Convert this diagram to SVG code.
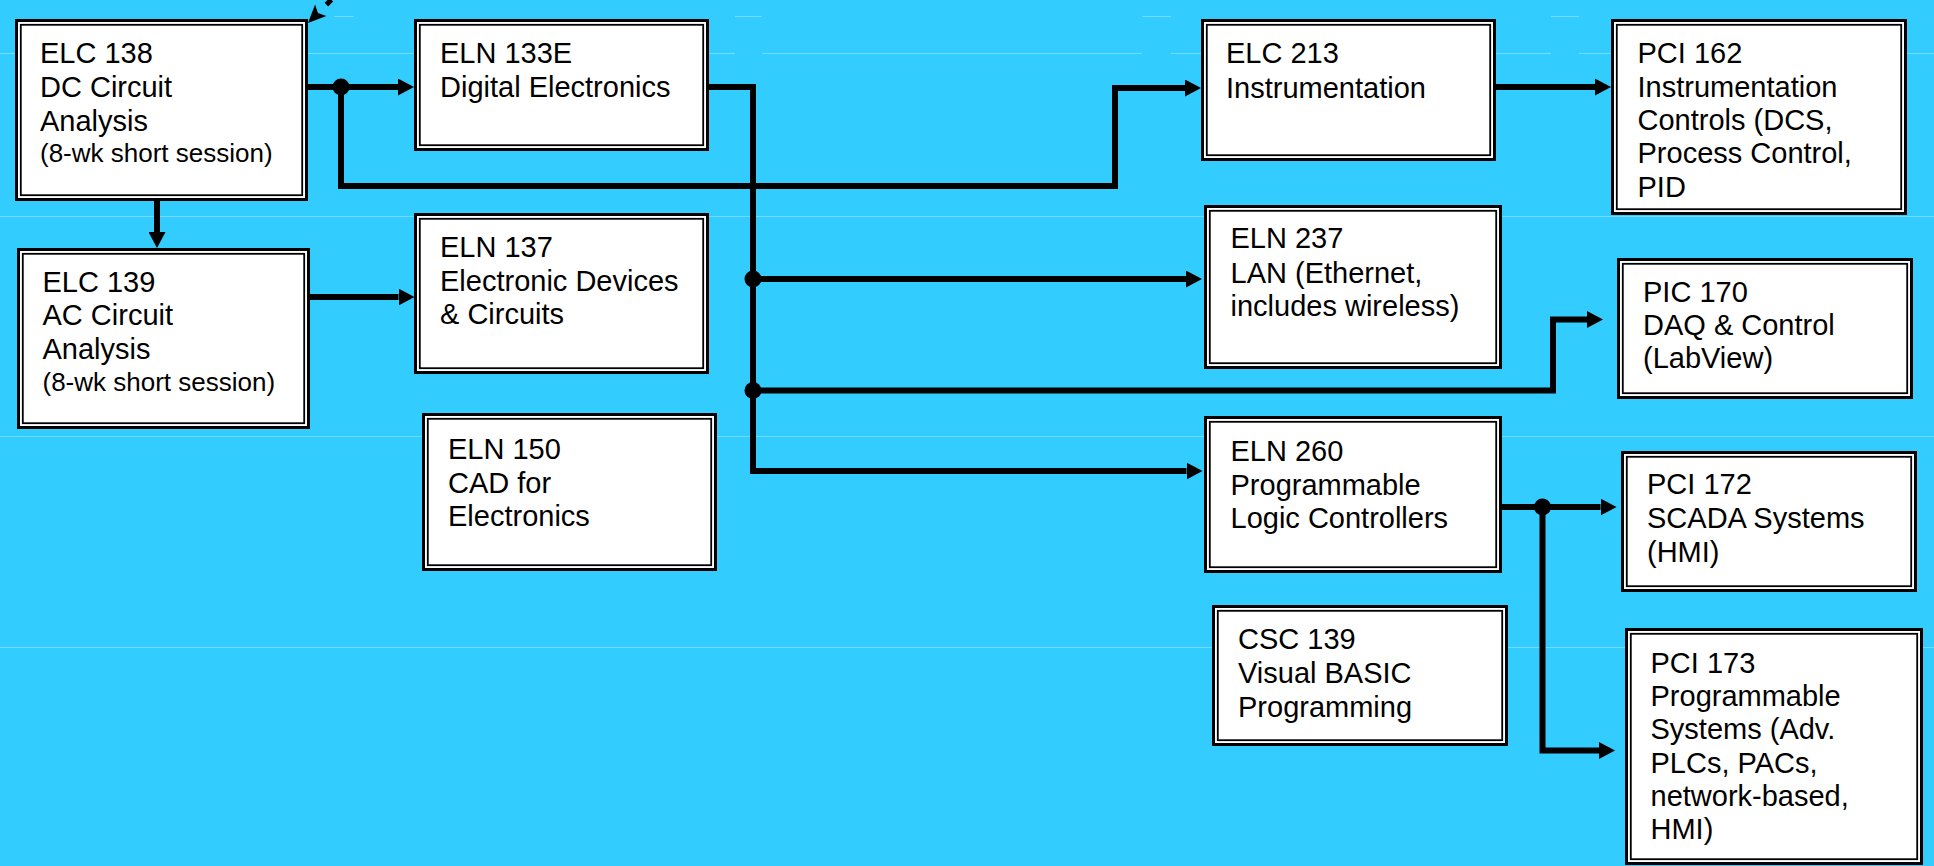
<svg xmlns="http://www.w3.org/2000/svg" width="1934" height="866" viewBox="0 0 1934 866">
<defs>
<style>
.bg{fill:#33CCFF}
.faint{stroke:#74DBFF;stroke-width:1;fill:none}
.o{fill:#FFFFFF;stroke:#000000;stroke-width:3}
.i{fill:none;stroke:#000000;stroke-width:1.8}
.t{font-family:"Liberation Sans",Arial,Helvetica,sans-serif;font-size:29px;fill:#000000}
.s{font-size:26px}
.c{fill:none;stroke:#000000;stroke-width:6;stroke-linejoin:miter}
.dot{fill:#000000}
</style>
<marker id="arr" viewBox="0 0 16 17" refX="0" refY="8.5" markerWidth="16" markerHeight="17" markerUnits="userSpaceOnUse" orient="auto">
<path d="M0,0 L16,8.5 L0,17 Z" fill="#000000"/>
</marker>
</defs>
<rect class="bg" x="0" y="0" width="1934" height="866"/>
<g id="background-lines">
<path class="faint" d="M0,53.5 H735 M762,53.5 H1142 M1171,53.5 H1551 M1579,53.5 H1934"/>
<path class="faint" d="M334,16.5 H354 M735,16.5 H762 M1142,16.5 H1171 M1551,16.5 H1579"/>
<path class="faint" d="M0,216.5 H1934 M0,436.5 H1934 M0,647.5 H1934"/>
</g>

<g id="n-elc138">
<rect class="o" x="16.5" y="20.5" width="290" height="179"/>
<rect class="i" x="20.8" y="24.8" width="281.4" height="170.4"/>
<text class="t"><tspan x="40" y="63.3">ELC 138</tspan><tspan x="40" y="96.7">DC Circuit</tspan><tspan x="40" y="130.7">Analysis</tspan><tspan class="s" x="40" y="162">(8-wk short session)</tspan></text>
</g>
<g id="n-eln133e">
<rect class="o" x="415.5" y="20.5" width="292" height="129"/>
<rect class="i" x="419.8" y="24.8" width="283.4" height="120.4"/>
<text class="t"><tspan x="440" y="63.3">ELN 133E</tspan><tspan x="440" y="96.7">Digital Electronics</tspan></text>
</g>
<g id="n-elc213">
<rect class="o" x="1202.5" y="20.5" width="292" height="139"/>
<rect class="i" x="1206.8" y="24.8" width="283.4" height="130.4"/>
<text class="t"><tspan x="1226" y="63.3">ELC 213</tspan><tspan x="1226" y="97.7">Instrumentation</tspan></text>
</g>
<g id="n-pci162">
<rect class="o" x="1612.5" y="20.5" width="293" height="193"/>
<rect class="i" x="1616.8" y="24.8" width="284.4" height="184.4"/>
<text class="t"><tspan x="1637.5" y="63.3">PCI 162</tspan><tspan x="1637.5" y="96.7">Instrumentation</tspan><tspan x="1637.5" y="130">Controls (DCS,</tspan><tspan x="1637.5" y="163.3">Process Control,</tspan><tspan x="1637.5" y="197">PID</tspan></text>
</g>
<g id="n-elc139">
<rect class="o" x="18.5" y="249.5" width="290" height="178"/>
<rect class="i" x="22.8" y="253.8" width="281.4" height="169.4"/>
<text class="t"><tspan x="42.5" y="291.7">ELC 139</tspan><tspan x="42.5" y="325">AC Circuit</tspan><tspan x="42.5" y="359.3">Analysis</tspan><tspan class="s" x="42.5" y="390.7">(8-wk short session)</tspan></text>
</g>
<g id="n-eln137">
<rect class="o" x="415.5" y="214.5" width="292" height="158"/>
<rect class="i" x="419.8" y="218.8" width="283.4" height="149.4"/>
<text class="t"><tspan x="440" y="256.7">ELN 137</tspan><tspan x="440" y="291">Electronic Devices</tspan><tspan x="440" y="324">&amp; Circuits</tspan></text>
</g>
<g id="n-eln237">
<rect class="o" x="1205.5" y="206.5" width="295" height="161"/>
<rect class="i" x="1209.8" y="210.8" width="286.4" height="152.4"/>
<text class="t"><tspan x="1230.5" y="248.3">ELN 237</tspan><tspan x="1230.5" y="282.7">LAN (Ethernet,</tspan><tspan x="1230.5" y="316">includes wireless)</tspan></text>
</g>
<g id="n-pic170">
<rect class="o" x="1618.5" y="259.5" width="293" height="138"/>
<rect class="i" x="1622.8" y="263.8" width="284.4" height="129.4"/>
<text class="t"><tspan x="1643" y="301.7">PIC 170</tspan><tspan x="1643" y="335">DAQ &amp; Control</tspan><tspan x="1643" y="368.3">(LabView)</tspan></text>
</g>
<g id="n-eln150">
<rect class="o" x="423.5" y="414.5" width="292" height="155"/>
<rect class="i" x="427.8" y="418.8" width="283.4" height="146.4"/>
<text class="t"><tspan x="448" y="459.3">ELN 150</tspan><tspan x="448" y="492.5">CAD for</tspan><tspan x="448" y="525.5">Electronics</tspan></text>
</g>
<g id="n-eln260">
<rect class="o" x="1205.5" y="417.5" width="295" height="154"/>
<rect class="i" x="1209.8" y="421.8" width="286.4" height="145.4"/>
<text class="t"><tspan x="1230.5" y="461">ELN 260</tspan><tspan x="1230.5" y="495">Programmable</tspan><tspan x="1230.5" y="528.3">Logic Controllers</tspan></text>
</g>
<g id="n-pci172">
<rect class="o" x="1622.5" y="452.5" width="293" height="138"/>
<rect class="i" x="1626.8" y="456.8" width="284.4" height="129.4"/>
<text class="t"><tspan x="1647" y="494.3">PCI 172</tspan><tspan x="1647" y="528.3">SCADA Systems</tspan><tspan x="1647" y="561.7">(HMI)</tspan></text>
</g>
<g id="n-csc139">
<rect class="o" x="1213.5" y="606.5" width="293" height="138"/>
<rect class="i" x="1217.8" y="610.8" width="284.4" height="129.4"/>
<text class="t"><tspan x="1238" y="649.3">CSC 139</tspan><tspan x="1238" y="682.7">Visual BASIC</tspan><tspan x="1238" y="716.7">Programming</tspan></text>
</g>
<g id="n-pci173">
<rect class="o" x="1626.5" y="629.5" width="295" height="234"/>
<rect class="i" x="1630.8" y="633.8" width="286.4" height="225.4"/>
<text class="t"><tspan x="1650.5" y="672.7">PCI 173</tspan><tspan x="1650.5" y="706">Programmable</tspan><tspan x="1650.5" y="739.3">Systems (Adv.</tspan><tspan x="1650.5" y="772.7">PLCs, PACs,</tspan><tspan x="1650.5" y="806">network-based,</tspan><tspan x="1650.5" y="839.3">HMI)</tspan></text>
</g>

<g id="connectors">
<path class="c" marker-end="url(#arr)" d="M308,87 H398"/>
<path class="c" marker-end="url(#arr)" d="M341,87 V186 H1115 V88 H1185"/>
<path class="c" marker-end="url(#arr)" d="M157,201 V232"/>
<path class="c" marker-end="url(#arr)" d="M310,297 H398.5"/>
<path class="c" marker-end="url(#arr)" d="M709,87 H753 V471 H1186.5"/>
<path class="c" marker-end="url(#arr)" d="M753,279 H1186"/>
<path class="c" marker-end="url(#arr)" d="M753,390.5 H1553 V319.5 H1587"/>
<path class="c" marker-end="url(#arr)" d="M1496,87 H1595"/>
<path class="c" marker-end="url(#arr)" d="M1502,507 H1600.5"/>
<path class="c" marker-end="url(#arr)" d="M1542.5,507 V750.5 H1599"/>
<circle class="dot" cx="341" cy="87" r="8.5"/>
<circle class="dot" cx="753" cy="279" r="8.5"/>
<circle class="dot" cx="753" cy="390.5" r="8.5"/>
<circle class="dot" cx="1542.5" cy="507" r="8.5"/>
<g transform="translate(308,23) rotate(-45)">
<path d="M0,0 L18,-8 L14,0 L18,8 Z" fill="#000000"/>
<path d="M26,0 H70" fill="none" stroke="#000000" stroke-width="5" stroke-dasharray="7 6"/>
</g>
</g>
</svg>
